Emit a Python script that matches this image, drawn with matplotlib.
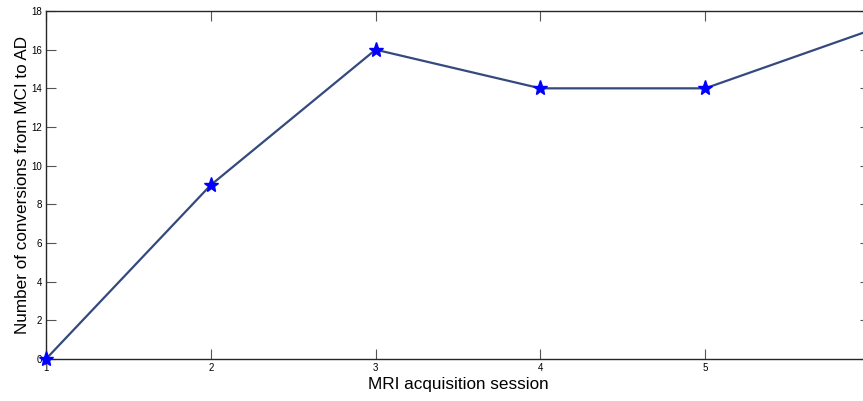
import numpy as np
import matplotlib.pyplot as plt

# MRI acquisition session vs number of MCI -> AD conversions
sessions = [1, 2, 3, 4, 5, 6]
conversions = [0, 9, 16, 14, 14, 17]
xticks = [1, 2, 3, 4, 5]
yticks = [0, 2, 4, 6, 8, 10, 12, 14, 16, 18]

plt.rcParams["font.family"] = ["Liberation Sans", "DejaVu Sans"]

fig = plt.figure(figsize=(8.63, 4.01), dpi=100)
# axes runs slightly past the right edge of the image, as in the original
ax = fig.add_axes([46 / 863, 42 / 401, 824 / 863, 348 / 401])

ax.plot(sessions, conversions, color="#34497d", linewidth=1.6, zorder=2)
ax.plot(sessions, conversions, linestyle="none", marker="*", markersize=11,
        color="#0000ff", zorder=3, clip_on=False)

ax.set_xlim(1, 6)
ax.set_ylim(0, 18)
ax.set_xticks(xticks)
ax.set_yticks(yticks)
ax.tick_params(direction="in", length=7, width=0.8, labelsize=7,
               top=True, right=True, color="#555555", pad=3)
for side in ["left", "bottom", "top", "right"]:
    ax.spines[side].set_color("#262626")
    ax.spines[side].set_linewidth(1.0)

ax.set_xlabel("MRI acquisition session", fontsize=12.3, labelpad=3)
ax.set_ylabel("Number of conversions from MCI to AD", fontsize=12.3, labelpad=1)

fig.savefig("out.png", dpi=100)
plt.close(fig)
